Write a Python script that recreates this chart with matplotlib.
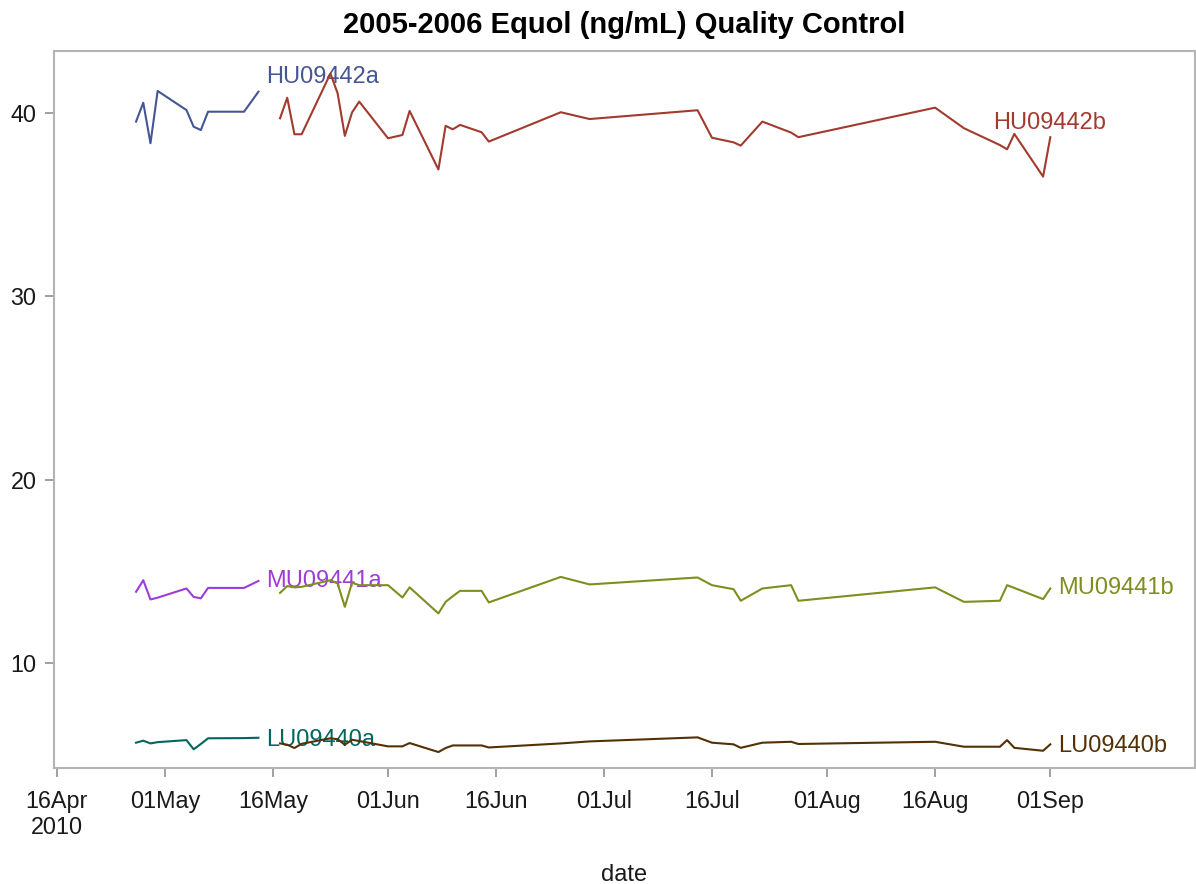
import matplotlib
matplotlib.use("Agg")
import matplotlib.pyplot as plt
import matplotlib.dates as mdates
import numpy as np
import datetime as dt

plt.rcParams['font.family'] = ['Liberation Sans', 'DejaVu Sans']

title = "2005-2006 Equol (ng/mL) Quality Control"
x_label = "date"

a_dates = ["2010-04-27", "2010-04-28", "2010-04-29", "2010-04-30", "2010-05-04",
           "2010-05-05", "2010-05-06", "2010-05-07", "2010-05-12", "2010-05-14"]
hu_a = [39.53, 40.56, 38.35, 41.20, 40.16, 39.25, 39.07, 40.07, 40.07, 41.16]
mu_a = [13.89, 14.52, 13.47, 13.57, 14.07, 13.61, 13.53, 14.10, 14.10, 14.48]
lu_a = [5.66, 5.77, 5.62, 5.69, 5.80, 5.30, 5.59, 5.90, 5.91, 5.93]

b_dates = ["2010-05-17", "2010-05-18", "2010-05-19", "2010-05-20", "2010-05-24",
           "2010-05-25", "2010-05-26", "2010-05-27", "2010-05-28", "2010-06-01",
           "2010-06-03", "2010-06-04", "2010-06-08", "2010-06-09", "2010-06-10",
           "2010-06-11", "2010-06-14", "2010-06-15", "2010-06-25", "2010-06-29",
           "2010-07-14", "2010-07-16", "2010-07-19", "2010-07-20", "2010-07-23",
           "2010-07-27", "2010-07-28", "2010-08-16", "2010-08-20", "2010-08-25",
           "2010-08-26", "2010-08-27", "2010-08-31", "2010-09-01"]
hu_b = [39.71, 40.83, 38.84, 38.84, 42.15, 41.07, 38.75, 40.03, 40.62, 38.62,
        38.80, 40.11, 36.92, 39.30, 39.11, 39.35, 38.95, 38.44, 40.04, 39.67,
        40.15, 38.65, 38.40, 38.22, 39.53, 38.93, 38.68, 40.29, 39.17, 38.25,
        38.02, 38.86, 36.53, 38.68]
mu_b = [13.83, 14.20, 14.13, 14.16, 14.52, 14.34, 13.07, 14.38, 14.25, 14.25,
        13.58, 14.13, 12.71, 13.34, 13.65, 13.94, 13.94, 13.31, 14.70, 14.29,
        14.67, 14.25, 14.03, 13.40, 14.07, 14.25, 13.40, 14.13, 13.34, 13.40,
        14.25, 14.10, 13.49, 14.07]
lu_b = [5.62, 5.55, 5.37, 5.60, 5.90, 5.85, 5.55, 5.82, 5.75, 5.46,
        5.46, 5.64, 5.15, 5.37, 5.51, 5.51, 5.51, 5.40, 5.62, 5.73,
        5.95, 5.66, 5.57, 5.38, 5.66, 5.71, 5.59, 5.71, 5.44, 5.44,
        5.80, 5.38, 5.22, 5.57]

tick_dates = ["2010-04-16", "2010-05-01", "2010-05-16", "2010-06-01", "2010-06-16",
              "2010-07-01", "2010-07-16", "2010-08-01", "2010-08-16", "2010-09-01"]
tick_labels = ["16Apr\n2010", "01May", "16May", "01Jun", "16Jun",
               "01Jul", "16Jul", "01Aug", "16Aug", "01Sep"]
y_ticks = [10, 20, 30, 40]

series = [
    ("HU09442a", a_dates, hu_a, "#445694", (8, 15)),
    ("HU09442b", b_dates, hu_b, "#A23A2E", (-57, 14)),
    ("MU09441a", a_dates, mu_a, "#9D3CDB", (8, 0)),
    ("MU09441b", b_dates, mu_b, "#7F8E1F", (8, 0)),
    ("LU09440a", a_dates, lu_a, "#01665E", (8, -2)),
    ("LU09440b", b_dates, lu_b, "#543005", (8, -2)),
]

def to_num(ds):
    return mdates.date2num([dt.datetime.strptime(d, "%Y-%m-%d") for d in ds])

fig = plt.figure(figsize=(11.96, 8.84), dpi=100)
ax = fig.add_axes([54/1196, 1 - 768/884, 1141/1196, (768 - 51)/884])

for name, ds, vals, col, off in series:
    xs = to_num(ds)
    ax.plot(xs, vals, color=col, lw=1.5, zorder=3)
    ax.annotate(name, xy=(xs[-1], vals[-1]), xytext=off, textcoords='offset pixels',
                color=col, fontsize=17, ha='left', va='center', zorder=2)

t0 = to_num(["2010-04-16"])[0]
ax.set_xlim(t0 - 0.4, t0 + 158.1)
ax.set_ylim(4.28, 43.38)

ax.set_xticks(to_num(tick_dates))
ax.set_xticklabels(tick_labels, fontsize=16.8, color="#1a1a1a", linespacing=1.18)
ax.set_yticks(y_ticks)
ax.set_yticklabels([str(v) for v in y_ticks], fontsize=16.8, color="#1a1a1a")

for s in ax.spines.values():
    s.set_color("#b4b4b4")
    s.set_linewidth(1.5)
ax.tick_params(axis='both', color="#a0a0a0", length=6.5, width=1.4)
ax.tick_params(axis='x', pad=9)
ax.tick_params(axis='y', pad=6)

ax.set_xlabel(x_label, fontsize=17, color="#1a1a1a", labelpad=18)
fig.suptitle(title, fontsize=21, fontweight='bold', x=624/1196, y=1 - 11/884, va='top')

fig.savefig("out.png", dpi=100)
